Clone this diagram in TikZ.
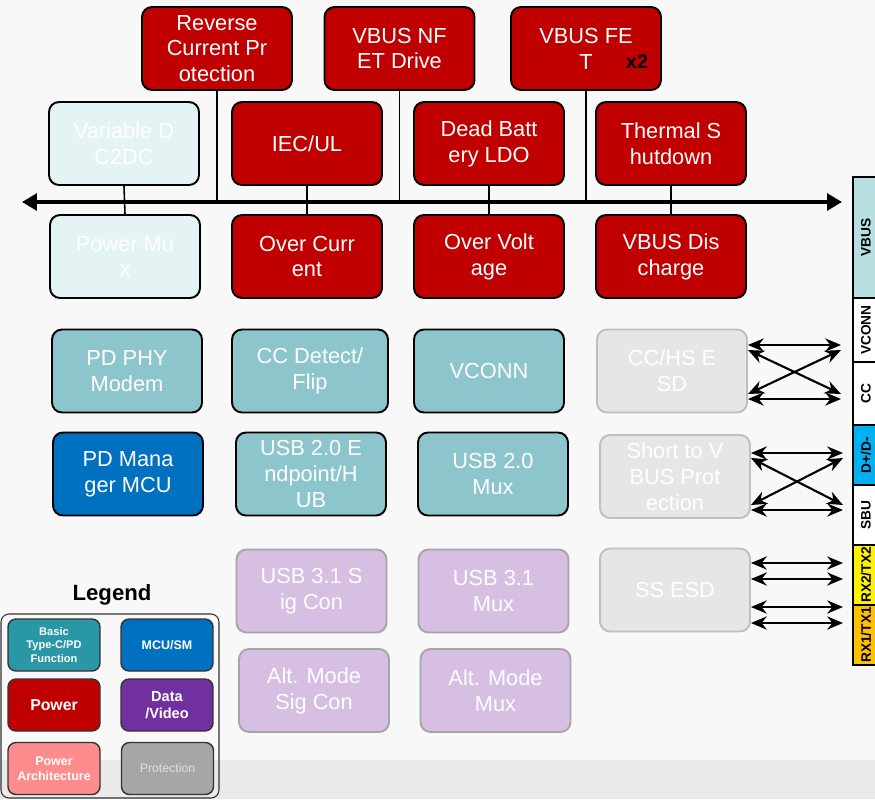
\documentclass[tikz,border=0pt]{standalone}
\usepackage{fontspec}
\setmainfont{Liberation Sans}
\usetikzlibrary{arrows.meta}

\definecolor{bgpale}{HTML}{F8F8F8}
\definecolor{bgband}{HTML}{EBE9E9}
\definecolor{pwrred}{HTML}{C00000}
\definecolor{archpale}{HTML}{E4F4F4}
\definecolor{functeal}{HTML}{8CC6CC}
\definecolor{mcublue}{HTML}{0070C0}
\definecolor{protgray}{HTML}{E6E6E6}
\definecolor{protedge}{HTML}{BFBFBF}
\definecolor{lilac}{HTML}{D6BFE2}
\definecolor{lilacedge}{HTML}{A6A6A6}
\definecolor{legteal}{HTML}{2A97A6}
\definecolor{legpurple}{HTML}{7030A0}
\definecolor{legpink}{HTML}{FF8C8C}
\definecolor{leggray}{HTML}{A6A6A6}
\definecolor{vbusteal}{HTML}{B7DEE1}
\definecolor{dpdmblue}{HTML}{00B0F0}
\definecolor{rxorange}{HTML}{FFC000}

\newcommand\boxfont{\fontsize{12.4}{14.7}\selectfont}

\begin{document}
\begin{tikzpicture}[x=0.02cm,y=-0.02cm,
  blk/.style={rectangle,rounded corners=0.2cm,minimum width=3cm,minimum height=1.66cm,
    align=center,text=white,font=\boxfont,line width=1.1pt,draw=black,inner sep=1pt},
  powerbox/.style={blk,fill=pwrred},
  archbox/.style={blk,fill=archpale},
  funcbox/.style={blk,fill=functeal},
  mcubox/.style={blk,fill=mcublue},
  protbox/.style={blk,fill=protgray,draw=protedge},
  databox/.style={blk,fill=lilac,draw=lilacedge},
  legitem/.style={rectangle,rounded corners=0.16cm,minimum width=1.84cm,minimum height=1.04cm,
    align=center,text=white,draw=black!80,line width=0.8pt,inner sep=1pt},
  pin/.style={rectangle,draw=black,line width=0.6pt,rotate=90,minimum height=0.52cm,
    inner sep=0pt,font=\bfseries\fontsize{7.8}{9}\selectfont},
  tie/.style={line width=0.9pt},
  dbl/.style={line width=1.2pt,{Stealth[length=9pt,width=7.5pt]}-{Stealth[length=9pt,width=7.5pt]}}]

  \useasboundingbox (0,0) rectangle (875,799);
  \fill[bgpale] (0,0) rectangle (875,799);
  \fill[bgband] (0,760) rectangle (875,799);

  % power path, top row
  \node[powerbox] (rcp)  at (217,48.5) {Reverse\\Current Pr\\otection};
  \node[powerbox] (nfet) at (399.5,48.5) {VBUS NF\\ET Drive};
  \node[powerbox] (fet)  at (586,48.5) {VBUS FE\\T};
  \node[font=\bfseries\fontsize{11.3}{13}\selectfont] (x2) at (637,62) {x2};

  % second row
  \node[archbox]  (vdc) at (124,143.5) {Variable D\\C2DC};
  \node[powerbox] (iec) at (307,143.5) {IEC/UL};
  \node[powerbox] (dbl) at (489,143.5) {Dead Batt\\ery LDO};
  \node[powerbox] (tsd) at (671,143.5) {Thermal S\\hutdown};

  % third row
  \node[archbox]  (pmux) at (125,256.5) {Power Mu\\x};
  \node[powerbox] (ocp)  at (307,256.5) {Over Curr\\ent};
  \node[powerbox] (ovp)  at (489,256.5) {Over Volt\\age};
  \node[powerbox] (vdis) at (671,256.5) {VBUS Dis\\charge};

  % bus
  \coordinate (busL) at (22,202);
  \coordinate (busR) at (842,202);
  \draw[line width=2.8pt,{Triangle[length=8.5pt,width=9.5pt]}-{Triangle[length=8.5pt,width=9.5pt]}]
    (busL) -- (busR);
  \draw[tie] (rcp.south)  -- (rcp.south |- busL);
  \draw[tie] (nfet.south) -- (nfet.south |- busL);
  \draw[tie] (fet.south)  -- (fet.south |- busL);
  \draw[tie] (vdc.south) -- (pmux.north);
  \draw[tie] (iec.south) -- (ocp.north);
  \draw[tie] (dbl.south) -- (ovp.north);
  \draw[tie] (tsd.south) -- (vdis.north);

  % type-C / PD functions
  \node[funcbox,minimum width=3.12cm] (ccd) at (310,371) {CC Detect/\\Flip};
  \node[funcbox] (phy)   at (127,371) {PD PHY\\Modem};
  \node[funcbox] (vconn) at (489,371) {VCONN};
  \node[protbox] (cchs)  at (672,371) {CC/HS E\\SD};

  \node[mcubox]  (pdm)   at (128,474) {PD Mana\\ger MCU};
  \node[funcbox] (usb2e) at (311,474) {USB 2.0 E\\ndpoint/H\\UB};
  \node[funcbox] (usb2m) at (493,474) {USB 2.0\\Mux};
  \node[protbox] (stv)   at (675,476.5) {Short to V\\BUS Prot\\ection};

  % data / video
  \node[databox] (u31s)  at (311.5,591) {USB 3.1 S\\ig Con};
  \node[databox] (u31m)  at (493.5,591) {USB 3.1\\Mux};
  \node[protbox] (ssesd) at (675,590) {SS ESD};
  \node[databox] (alts)  at (314,690.5) {Alt. Mode\\Sig Con};
  \node[databox] (altm)  at (495.5,690.5) {Alt. Mode\\Mux};

  % connector pins
  \node[pin,fill=vbusteal,minimum width=2.42cm] (pvbus) at (866,237.5) {VBUS};
  \node[pin,fill=white,minimum width=1.28cm] (pvconn) at (866,330) {VCONN};
  \node[pin,fill=white,minimum width=1.26cm] (pcc) at (866,393.5) {CC};
  \node[pin,fill=dpdmblue,minimum width=1.2cm] (pdpdm) at (866,455) {D+/D-};
  \node[pin,fill=white,minimum width=1.2cm] (psbu) at (866,515) {SBU};
  \node[pin,fill=yellow,minimum width=1.2cm] (prx2) at (866,575) {RX2/TX2};
  \node[pin,fill=rxorange,minimum width=1.2cm] (prx1) at (866,635) {RX1/TX1};

  % protection links
  \coordinate (c1) at (841,345);
  \coordinate (c2) at (841,399);
  \coordinate (c3) at (841,350);
  \coordinate (c4) at (841,394);
  \draw[dbl] (cchs.east |- c1) -- (c1);
  \draw[dbl] (cchs.east |- c2) -- (c2);
  \draw[dbl] (cchs.east |- c3) -- (c4);
  \draw[dbl] (cchs.east |- c4) -- (c3);

  \coordinate (s1) at (843,453);
  \coordinate (s2) at (843,510);
  \coordinate (s3) at (843,458);
  \coordinate (s4) at (843,505);
  \draw[dbl] (stv.east |- s1) -- (s1);
  \draw[dbl] (stv.east |- s2) -- (s2);
  \draw[dbl] (stv.east |- s3) -- (s4);
  \draw[dbl] (stv.east |- s4) -- (s3);

  \coordinate (e1) at (843,563);
  \coordinate (e2) at (843,579);
  \coordinate (e3) at (843,607);
  \coordinate (e4) at (843,623);
  \draw[dbl] (ssesd.east |- e1) -- (e1);
  \draw[dbl] (ssesd.east |- e2) -- (e2);
  \draw[dbl] (ssesd.east |- e3) -- (e3);
  \draw[dbl] (ssesd.east |- e4) -- (e4);

  % legend
  \node[font=\bfseries\fontsize{12.6}{15}\selectfont] (legtitle) at (112,595) {Legend};
  \draw[draw=black!80,line width=0.6pt,rounded corners=0.16cm] (1,614) rectangle (219,798);
  \node[legitem,fill=legteal,font=\bfseries\fontsize{6.3}{7.8}\selectfont] (lfunc) at (54,645) {Basic\\Type-C/PD\\Function};
  \node[legitem,fill=mcublue,font=\bfseries\fontsize{7.1}{8.5}\selectfont] (lmcu) at (167,645) {MCU/SM};
  \node[legitem,fill=pwrred,font=\bfseries\fontsize{9}{10.5}\selectfont] (lpwr) at (54,705) {Power};
  \node[legitem,fill=legpurple,font=\bfseries\fontsize{8.3}{9.8}\selectfont] (ldata) at (167,705) {Data\\/Video};
  \node[legitem,fill=legpink,font=\bfseries\fontsize{7.1}{8.7}\selectfont] (larch) at (54,768.5) {Power\\Architecture};
  \node[legitem,fill=leggray,text=black!12,font=\fontsize{7}{8.5}\selectfont] (lprot) at (167.5,768.5) {Protection};
\end{tikzpicture}
\end{document}
